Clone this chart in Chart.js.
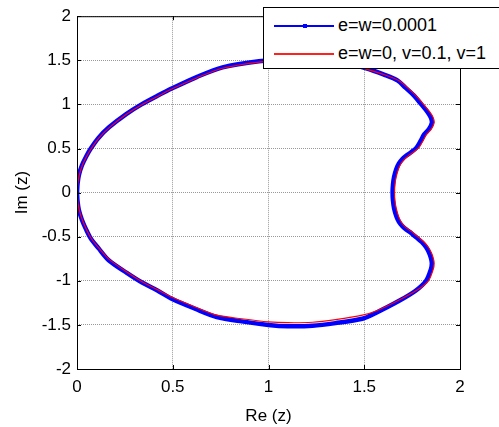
<!DOCTYPE html>
<html>
<head>
<meta charset="utf-8">
<script src="https://cdn.jsdelivr.net/npm/chart.js@4"></script>
<style>
    body { margin: 0; width: 499px; height: 427px; overflow: hidden; background: #fff; font-family: Arial, "Liberation Sans", sans-serif; }
    #wrap { position: absolute; left: 0; top: 0; width: 499px; height: 427px; }
    #legend { position: absolute; left: 263px; top: 7px; width: 250px; height: 60px; border: 1px solid #000; background: #fff; }
    .row { position: absolute; left: 0; height: 20px; width: 250px; }
    .sample { position: absolute; left: 10px; top: 10px; width: 60px; height: 2px; }
    .dot { position: absolute; left: 29px; top: -1px; width: 4px; height: 4px; background: #0000ff; }
    .label { position: absolute; left: 74px; top: 0; font-size: 18px; line-height: 20px; color: #000; white-space: nowrap; }
</style>
</head>
<body>
<div id="wrap"><canvas id="chart"></canvas></div>
<div id="legend">
    <div class="row" style="top:7px"><div class="sample" style="background:#0000ff"><div class="dot"></div></div><span class="label">e=w=0.0001</span></div>
    <div class="row" style="top:35px"><div class="sample" style="background:#ff2020"></div><span class="label">e=w=0, v=0.1, v=1</span></div>
</div>
<script>
// --------------------------------
// || Data
// --------------------------------

const seriesNames = ['e=w=0.0001', 'e=w=0, v=0.1, v=1'];

// red curve: upper half from the leftmost point round to the notch, then lower half back
const redUpRe = [0, 0.004, 0.012, 0.028, 0.05, 0.075, 0.115, 0.17, 0.26, 0.34, 0.42, 0.50, 0.625, 0.76, 0.95, 1.10, 1.25, 1.40, 1.51, 1.60,
                 1.68, 1.725, 1.77, 1.81, 1.84, 1.86, 1.865, 1.85, 1.825, 1.805, 1.785, 1.758, 1.732, 1.71, 1.692, 1.679, 1.667, 1.66, 1.658];
const redUpIm = [0, 0.10, 0.20, 0.31, 0.41, 0.50, 0.62, 0.74, 0.89, 1.00, 1.09, 1.18, 1.30, 1.41, 1.48, 1.505, 1.505, 1.46, 1.40, 1.34,
                 1.27, 1.19, 1.10, 1.00, 0.92, 0.85, 0.79, 0.72, 0.66, 0.58, 0.51, 0.46, 0.42, 0.38, 0.33, 0.27, 0.18, 0.09, 0];
const redLoRe = [1.66, 1.667, 1.679, 1.692, 1.71, 1.732, 1.758, 1.785, 1.812, 1.835, 1.85, 1.86, 1.865, 1.86, 1.835, 1.78, 1.69, 1.565, 1.49, 1.35,
                 1.23, 1.10, 1.00, 0.86, 0.73, 0.62, 0.50, 0.42, 0.34, 0.26, 0.17, 0.115, 0.075, 0.05, 0.028, 0.012, 0.004, 0];
const redLoIm = [-0.09, -0.18, -0.27, -0.33, -0.38, -0.42, -0.46, -0.51, -0.56, -0.62, -0.68, -0.74, -0.80, -0.87, -1.00, -1.10, -1.21, -1.34, -1.39, -1.44,
                 -1.47, -1.475, -1.465, -1.43, -1.39, -1.30, -1.19, -1.10, -1.01, -0.90, -0.76, -0.63, -0.52, -0.42, -0.31, -0.20, -0.10, 0];

// blue curve (e=w=0.0001), nearly on top of the red one
const blueUpRe = [0, 0.003, 0.010, 0.026, 0.048, 0.072, 0.112, 0.167, 0.257, 0.337, 0.418, 0.50, 0.625, 0.76, 0.95, 1.10, 1.25, 1.40, 1.51, 1.60,
                  1.675, 1.715, 1.76, 1.798, 1.828, 1.848, 1.853, 1.838, 1.813, 1.793, 1.773, 1.746, 1.72, 1.699, 1.681, 1.668, 1.656, 1.65, 1.648];
const blueUpIm = [0, 0.10, 0.20, 0.31, 0.41, 0.50, 0.62, 0.74, 0.89, 1.00, 1.095, 1.185, 1.31, 1.42, 1.49, 1.51, 1.51, 1.47, 1.41, 1.34,
                  1.27, 1.19, 1.10, 1.00, 0.92, 0.85, 0.79, 0.72, 0.66, 0.58, 0.51, 0.46, 0.42, 0.38, 0.33, 0.27, 0.18, 0.09, 0];
const blueLoRe = [1.65, 1.656, 1.668, 1.681, 1.699, 1.72, 1.746, 1.773, 1.8, 1.823, 1.838, 1.848, 1.853, 1.848, 1.823, 1.77, 1.68, 1.555, 1.49, 1.35,
                  1.23, 1.10, 1.00, 0.86, 0.73, 0.62, 0.50, 0.42, 0.34, 0.26, 0.167, 0.112, 0.072, 0.048, 0.026, 0.010, 0.003, 0];
const blueLoIm = [-0.09, -0.18, -0.27, -0.33, -0.38, -0.42, -0.46, -0.51, -0.56, -0.62, -0.68, -0.74, -0.80, -0.87, -1.00, -1.11, -1.23, -1.37, -1.43, -1.48,
                  -1.51, -1.515, -1.50, -1.46, -1.41, -1.32, -1.21, -1.11, -1.02, -0.91, -0.77, -0.63, -0.52, -0.42, -0.31, -0.20, -0.10, 0];

const xTicks = [0, 0.5, 1, 1.5, 2];
const yTicks = [-2, -1.5, -1, -0.5, 0, 0.5, 1, 1.5, 2];

// --------------------------------
// || Chart
// --------------------------------

function toPoints(re, im) {
    return re.map((x, i) => ({ x: x, y: im[i] }));
}

const tickFont = { family: 'Arial, "Liberation Sans", sans-serif', size: 17 };

// MATLAB style: full black box round the axes, ticks pointing inward
const boxPlugin = {
    id: 'box',
    afterDraw(chart) {
        const ctx = chart.ctx;
        const a = chart.chartArea;
        const xs = chart.scales.x;
        const ys = chart.scales.y;
        ctx.save();
        ctx.strokeStyle = '#000';
        ctx.lineWidth = 1;
        ctx.strokeRect(a.left + 0.5, a.top + 0.5, a.right - a.left, a.bottom - a.top);
        ctx.beginPath();
        xTicks.forEach(v => {
            const px = Math.round(xs.getPixelForValue(v)) + 0.5;
            ctx.moveTo(px, a.bottom); ctx.lineTo(px, a.bottom - 4);
            ctx.moveTo(px, a.top); ctx.lineTo(px, a.top + 4);
        });
        yTicks.forEach(v => {
            const py = Math.round(ys.getPixelForValue(v)) + 0.5;
            ctx.moveTo(a.left, py); ctx.lineTo(a.left + 4, py);
            ctx.moveTo(a.right, py); ctx.lineTo(a.right - 4, py);
        });
        ctx.stroke();
        ctx.restore();
    }
};

new Chart(document.getElementById('chart'), {
    type: 'scatter',
    data: {
        datasets: [{
            label: seriesNames[1],
            data: toPoints(redUpRe.concat(redLoRe), redUpIm.concat(redLoIm)),
            showLine: true,
            borderColor: '#ff0000',
            borderWidth: 1.2,
            pointRadius: 0,
            tension: 0.3,
            order: 1
        }, {
            label: seriesNames[0],
            data: toPoints(blueUpRe.concat(blueLoRe), blueUpIm.concat(blueLoIm)),
            showLine: true,
            borderColor: '#0000ff',
            borderWidth: 4.5,
            pointRadius: 0,
            tension: 0.3,
            order: 2
        }]
    },
    options: {
        responsive: true,
        maintainAspectRatio: false,
        animation: false,
        layout: { padding: { left: 0, top: 15, right: 39, bottom: 0 } },
        plugins: {
            legend: { display: false },
            tooltip: { enabled: false }
        },
        scales: {
            x: {
                type: 'linear',
                min: 0,
                max: 2,
                afterBuildTicks: scale => { scale.ticks = xTicks.map(v => ({ value: v })); },
                afterFit: scale => { scale.height = 58; },
                grid: { color: 'rgba(0,0,0,0.4)', drawTicks: false },
                border: { display: false, dash: [1, 1] },
                ticks: { font: tickFont, color: '#000', padding: 8, maxRotation: 0, callback: v => String(v) },
                title: { display: true, text: 'Re (z)', font: tickFont, color: '#000', padding: { top: 2, bottom: 0 } }
            },
            y: {
                type: 'linear',
                min: -2,
                max: 2,
                afterBuildTicks: scale => { scale.ticks = yTicks.map(v => ({ value: v })); },
                afterFit: scale => { scale.width = 77; },
                grid: { color: 'rgba(0,0,0,0.4)', drawTicks: false },
                border: { display: false, dash: [1, 1] },
                ticks: { font: tickFont, color: '#000', padding: 6, callback: v => String(v) },
                title: { display: true, text: 'Im (z)', font: tickFont, color: '#000', padding: { top: 12, bottom: 0 } }
            }
        }
    },
    plugins: [boxPlugin]
});
</script>
</body>
</html>
